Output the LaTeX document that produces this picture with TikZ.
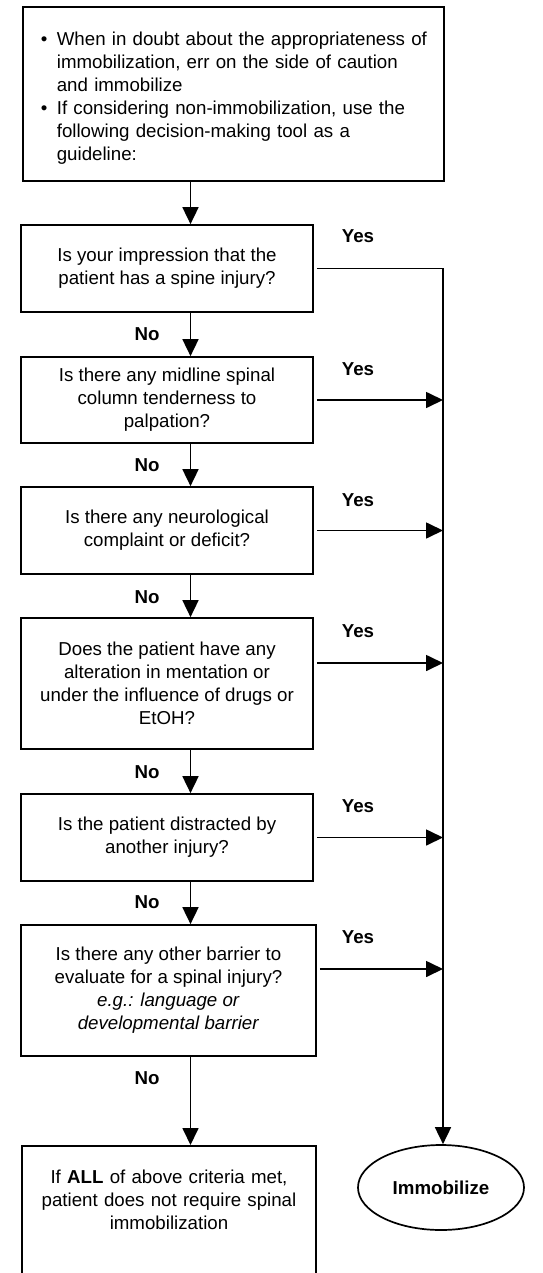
\documentclass[tikz,border=0pt]{standalone}
\usepackage{fontspec}
\setmainfont{Liberation Sans}
\usetikzlibrary{arrows.meta,shapes.geometric}
\begin{document}
\begin{tikzpicture}[x=1pt,y=-1pt,
  txt/.style={font=\fontsize{18.7pt}{23pt}\selectfont},
  qbox/.style={txt, draw, line width=1.7pt, align=center, inner sep=0pt, minimum width=292pt},
  lbl/.style={font=\fontsize{18.7pt}{23pt}\selectfont\bfseries, anchor=base, inner sep=0pt},
  arr/.style={line width=1.7pt, -{Triangle[length=17pt,width=16pt]}},
]
\useasboundingbox (0,0) rectangle (542,1273);
\clip (0,0) rectangle (542,1273);

\node[txt, draw, line width=1.7pt, anchor=north west, inner xsep=18pt, inner ysep=0pt,
      text width=385pt, text height=39pt, text depth=135pt, align=left] (intro) at (22,6)
  {\begin{tabular}[t]{@{}p{16pt}@{}l@{}}
   \textbullet & When in doubt about the appropriateness of\\
    & immobilization, err on the side of caution\\
    & and immobilize\\
   \textbullet & If considering non-immobilization, use the\\
    & following decision-making tool as a\\
    & guideline:
   \end{tabular}};

\node[qbox, minimum height=87pt] (q1) at (167,268.5)
  {Is your impression that the\\patient has a spine injury?};
\node[qbox, minimum height=86pt] (q2) at (167,400)
  {Is there any midline spinal\\column tenderness to\\palpation?};
\node[qbox, minimum height=87pt] (q3) at (167,530.5)
  {Is there any neurological\\complaint or deficit?};
\node[qbox, minimum height=131pt] (q4) at (167,683.5)
  {Does the patient have any\\alteration in mentation or\\under the influence of drugs or\\EtOH?};
\node[qbox, minimum height=87pt] (q5) at (167,837.5)
  {Is the patient distracted by\\another injury?};
\node[qbox, minimum height=131pt, minimum width=295pt] (q6) at (168.5,990.5)
  {Is there any other barrier to\\evaluate for a spinal injury?\\\textit{e.g.: language or}\\\textit{developmental barrier}};

\node[txt, draw, line width=1.7pt, anchor=north, inner xsep=0pt, inner ysep=0pt,
      text width=294pt, text height=38pt, text depth=140pt, align=center] (final) at (169,1145)
  {If \textbf{ALL} of above criteria met,\\patient does not require spinal\\immobilization};

\node[draw, ellipse, line width=1.7pt, minimum width=166pt, minimum height=85pt, inner sep=0pt,
      font=\fontsize{18.7pt}{23pt}\selectfont\bfseries] (immob) at (441,1187.5) {Immobilize};

\coordinate (nx) at (190.5,0);
\coordinate (vx) at (443,0);
\coordinate (a4) at (443,663);
\coordinate (a6) at (443,969);

\draw[arr] (intro.south -| nx) -- (q1.north -| nx);
\draw[arr] (q1.south -| nx) -- (q2.north -| nx);
\draw[arr] (q2.south -| nx) -- (q3.north -| nx);
\draw[arr] (q3.south -| nx) -- (q4.north -| nx);
\draw[arr] (q4.south -| nx) -- (q5.north -| nx);
\draw[arr] (q5.south -| nx) -- (q6.north -| nx);
\draw[arr] (q6.south -| nx) -- (final.north -| nx);

\draw[arr, shorten <=3pt] (q1.east) -- (q1.east -| vx) -- (immob.north -| vx);
\draw[arr, shorten <=3pt] (q2.east) -- (q2.east -| vx);
\draw[arr, shorten <=3pt] (q3.east) -- (q3.east -| vx);
\draw[arr, shorten <=3pt] (q4.east |- a4) -- (a4);
\draw[arr, shorten <=3pt] (q5.east) -- (q5.east -| vx);
\draw[arr, shorten <=3pt] (q6.east |- a6) -- (a6);

\node[lbl] (y1) at (358,243) {Yes};
\node[lbl] (y2) at (358,375) {Yes};
\node[lbl] (y3) at (358,506) {Yes};
\node[lbl] (y4) at (358,637) {Yes};
\node[lbl] (y5) at (358,812.5) {Yes};
\node[lbl] (y6) at (358,943) {Yes};

\node[lbl] (n1) at (147,340) {No};
\node[lbl] (n2) at (147,471) {No};
\node[lbl] (n3) at (147,603) {No};
\node[lbl] (n4) at (147,778) {No};
\node[lbl] (n5) at (147,908) {No};
\node[lbl] (n6) at (147,1084) {No};
\end{tikzpicture}
\end{document}
